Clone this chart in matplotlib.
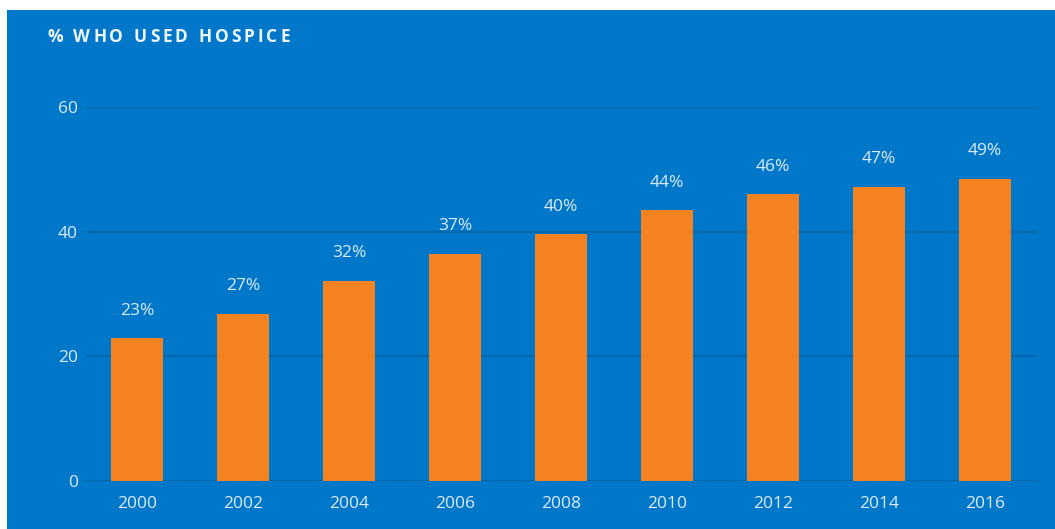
import numpy as np
import matplotlib.pyplot as plt
from matplotlib.patches import Rectangle

# data
years = ['2000', '2002', '2004', '2006', '2008', '2010', '2012', '2014', '2016']
pct_used = [22.9, 26.8, 32.1, 36.4, 39.6, 43.4, 46.0, 47.2, 48.5]
pct_labels = ['23%', '27%', '32%', '37%', '40%', '44%', '46%', '47%', '49%']
yticks = [0, 20, 40, 60]

BLUE = '#0077c8'
GRID = '#0066ae'
ORANGE = '#f58220'
TXT = '#dcebf8'

plt.rcParams['font.family'] = ['Open Sans', 'DejaVu Sans']

W, H = 1055, 529
fig = plt.figure(figsize=(W / 100, H / 100), dpi=100, facecolor='white')

# blue panel (white strip on top and left)
fig.add_artist(Rectangle((7 / W, 0), 1 - 7 / W, 1 - 10 / H,
                         transform=fig.transFigure, facecolor=BLUE,
                         edgecolor='none', zorder=-10))

ax = fig.add_axes([86 / W, 1 - 481 / H, (1037 - 86) / W, (481 - 107) / H])
ax.set_facecolor('none')
ax.set_zorder(2)

x = np.arange(len(years))
ax.bar(x, pct_used, width=0.49, color=ORANGE, zorder=3)

for xi, v, lab in zip(x, pct_used, pct_labels):
    ax.annotate(lab, (xi, v), xytext=(0, 17), textcoords='offset points',
                ha='center', va='baseline', fontsize=12.5, color=TXT,
                annotation_clip=False)

ax.set_xlim(-0.48, 8.49)
ax.set_ylim(0, 60)
ax.set_yticks(yticks)
ax.set_xticks(x)
ax.set_xticklabels(years)
ax.tick_params(axis='both', length=0, labelsize=12.5, labelcolor=TXT)
ax.tick_params(axis='x', pad=11)
ax.tick_params(axis='y', pad=6)
ax.grid(axis='y', color=GRID, linewidth=1.5, zorder=0)
ax.set_axisbelow(True)
for s in ax.spines.values():
    s.set_visible(False)

# title with letter spacing, drawn char by char
title = '% WHO USED HOSPICE'
r = fig.canvas.get_renderer()
xpos = 47
for ch in title:
    t = fig.text(xpos / W, 1 - 37 / H, ch, fontsize=12.5, fontweight='bold',
                 color='#eef5fc', va='center', ha='left', zorder=5)
    w = t.get_window_extent(renderer=r).width
    if ch == ' ':
        w = 5
    xpos += w + 2.9

fig.savefig('out.png', dpi=100, facecolor='white')
